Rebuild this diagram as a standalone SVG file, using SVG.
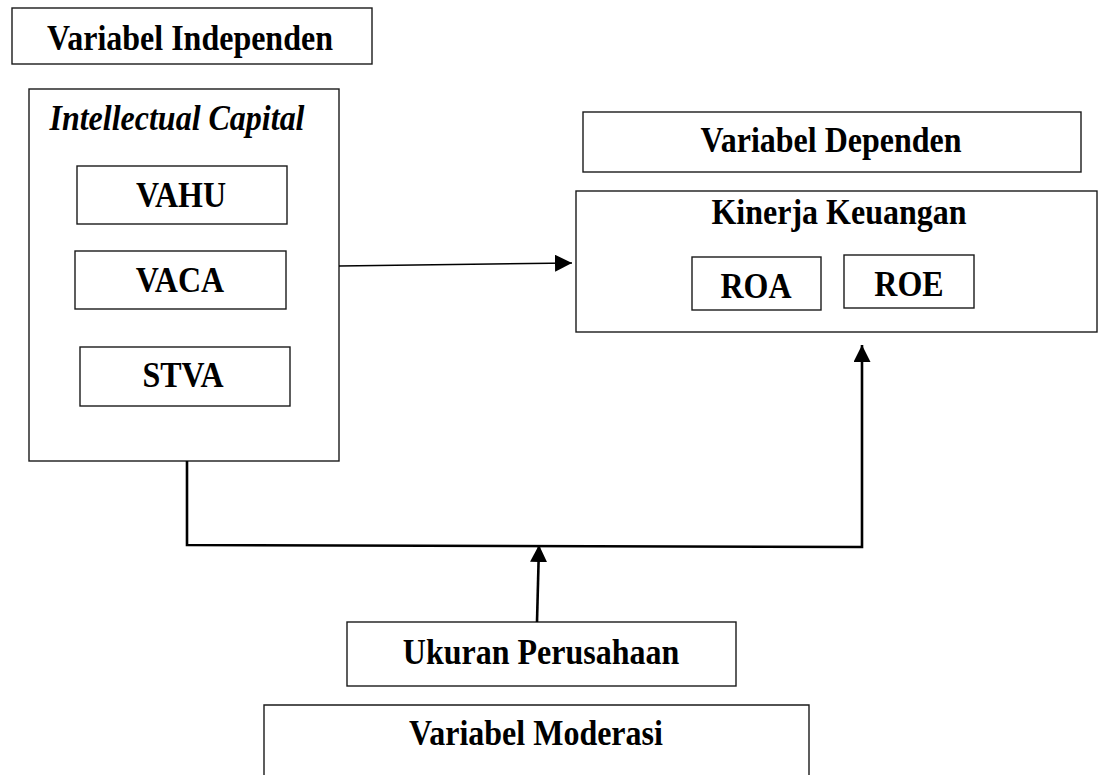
<svg xmlns="http://www.w3.org/2000/svg" width="1098" height="775" viewBox="0 0 1098 775">
<style>
.box{fill:#fff;stroke:#1a1a1a;stroke-width:1.4}
.t{font-family:"Liberation Serif","Times New Roman",serif;font-weight:bold;font-size:32px;fill:#000;text-anchor:middle}
.it{font-style:italic}
.thin{fill:none;stroke:#000;stroke-width:1.4}
.thick{fill:none;stroke:#000;stroke-width:2.6}
</style>
<defs>
<marker id="ah" markerUnits="userSpaceOnUse" markerWidth="17" markerHeight="17" refX="16" refY="8" orient="auto" viewBox="0 0 16 16">
<path d="M0,0 L16,8 L0,16 z" fill="#000"/>
</marker>
</defs>
<g id="var-independen">
<rect class="box" x="12" y="8" width="360" height="56"/>
<text class="t" transform="translate(190,50) scale(1,1.1)">Variabel Independen</text>
</g>
<g id="intellectual-capital">
<rect class="box" x="29" y="89" width="310" height="372"/>
<text class="t it" transform="translate(177,130) scale(1,1.1)">Intellectual Capital</text>
</g>
<g id="vahu">
<rect class="box" x="77" y="166" width="210" height="58"/>
<text class="t" transform="translate(181,207) scale(1,1.1)">VAHU</text>
</g>
<g id="vaca">
<rect class="box" x="75" y="251" width="211" height="58"/>
<text class="t" transform="translate(180,292) scale(1,1.1)">VACA</text>
</g>
<g id="stva">
<rect class="box" x="80" y="347" width="210" height="59"/>
<text class="t" transform="translate(183,387) scale(1,1.1)">STVA</text>
</g>
<g id="var-dependen">
<rect class="box" x="583" y="112" width="498" height="60"/>
<text class="t" transform="translate(831,152) scale(1,1.1)">Variabel Dependen</text>
</g>
<g id="kinerja-keuangan">
<rect class="box" x="576" y="191" width="521" height="141"/>
<text class="t" transform="translate(839,224) scale(1,1.1)">Kinerja Keuangan</text>
</g>
<g id="roa">
<rect class="box" x="692" y="257" width="129" height="53"/>
<text class="t" transform="translate(756,298) scale(1,1.1)">ROA</text>
</g>
<g id="roe">
<rect class="box" x="844" y="255" width="130" height="53"/>
<text class="t" transform="translate(909,296) scale(1,1.1)">ROE</text>
</g>
<g id="ukuran-perusahaan">
<rect class="box" x="347" y="622" width="389" height="64"/>
<text class="t" transform="translate(541,664) scale(1,1.1)">Ukuran Perusahaan</text>
</g>
<g id="var-moderasi">
<path class="box" d="M264,776 L264,705 L809,705 L809,776"/>
<text class="t" transform="translate(536,745) scale(1,1.1)">Variabel Moderasi</text>
</g>
<g id="connectors">
<line class="thin" x1="339" y1="266" x2="572" y2="263" marker-end="url(#ah)"/>
<polyline class="thick" points="187,461 187,545 862,547 862,345" marker-end="url(#ah)"/>
<line class="thick" x1="537" y1="622" x2="539" y2="545" marker-end="url(#ah)"/>
</g>
</svg>
